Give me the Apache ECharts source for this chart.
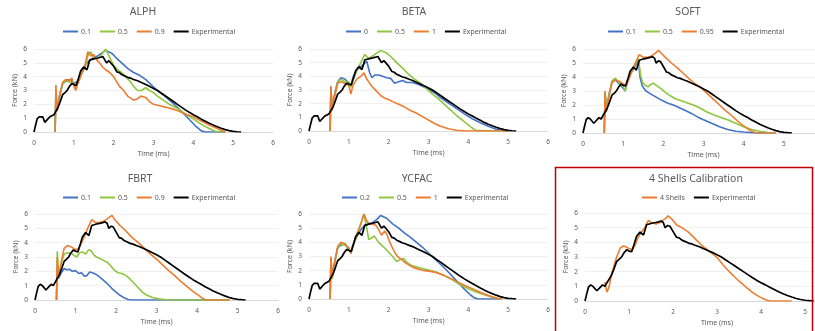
<!DOCTYPE html>
<html><head><meta charset="utf-8">
<script src="https://cdn.jsdelivr.net/npm/echarts@6/dist/echarts.min.js"></script>
<style>html,body{margin:0;padding:0;background:#fff}#c{width:815px;height:331px}</style>
</head><body><div id="c"></div>
<script>
// ---- data (time ms, force kN) ----
const panelTitles = ['ALPH','BETA','SOFT','FBRT','YCFAC','4 Shells Calibration'];
const xTicks = [0,1,2,3,4,5,6];
const yTicks = [0,1,2,3,4,5,6];
const experimental = [[0,0],[0.04,0.5],[0.08,0.95],[0.13,1.1],[0.18,1.0],[0.22,1.1],[0.27,0.7],[0.3,0.6],[0.35,0.95],[0.4,1.1],[0.45,1.0],[0.5,1.25],[0.53,1.4],[0.6,1.75],[0.66,2.2],[0.72,2.7],[0.78,2.85],[0.83,3.0],[0.89,3.3],[0.95,3.5],[1.0,3.4],[1.06,3.36],[1.12,3.9],[1.17,4.4],[1.25,4.7],[1.33,4.5],[1.4,5.2],[1.46,5.25],[1.52,5.3],[1.6,5.35],[1.67,5.4],[1.73,5.45],[1.78,5.35],[1.82,5.0],[1.88,5.15],[1.93,5.1],[2.0,4.75],[2.08,4.35],[2.14,4.3],[2.2,4.15],[2.28,4.05],[2.35,3.95],[2.42,3.9],[2.5,3.8],[2.6,3.7],[2.75,3.5],[2.9,3.3],[3.0,3.15],[3.1,3.0],[3.2,2.8],[3.3,2.6],[3.4,2.4],[3.5,2.2],[3.6,2.0],[3.7,1.8],[3.8,1.6],[3.9,1.42],[4.0,1.25],[4.1,1.1],[4.2,0.93],[4.3,0.78],[4.4,0.63],[4.5,0.5],[4.6,0.38],[4.7,0.27],[4.8,0.17],[4.9,0.1],[5.0,0.05],[5.1,0.02],[5.2,0]];

const alph01 = [[0.53,0],[0.55,2.8],[0.58,1.7],[0.65,2.8],[0.72,3.5],[0.8,3.7],[0.9,3.8],[1.0,3.5],[1.1,3.7],[1.2,4.5],[1.28,4.8],[1.4,5.2],[1.5,5.4],[1.6,5.5],[1.7,5.7],[1.8,5.9],[1.85,6.0],[1.95,5.7],[2.05,5.4],[2.2,5.0],[2.35,4.6],[2.5,4.3],[2.65,4.1],[2.8,3.8],[2.95,3.4],[3.1,3.0],[3.3,2.55],[3.5,2.05],[3.7,1.5],[3.9,0.9],[4.05,0.45],[4.2,0.08],[4.3,0],[4.8,0]];
const alph05 = [[0.53,0],[0.55,3.0],[0.58,1.6],[0.65,2.7],[0.72,3.5],[0.8,3.7],[0.9,3.6],[1.0,3.5],[1.05,3.2],[1.1,3.6],[1.2,4.3],[1.28,4.6],[1.35,5.5],[1.42,5.8],[1.5,5.4],[1.6,5.3],[1.7,5.6],[1.8,6.0],[1.9,5.4],[2.0,4.8],[2.1,4.5],[2.2,4.3],[2.3,4.0],[2.4,3.7],[2.5,3.3],[2.6,3.0],[2.7,3.0],[2.8,3.2],[2.9,3.0],[3.0,2.85],[3.1,2.6],[3.2,2.4],[3.4,2.0],[3.6,1.7],[3.8,1.3],[4.0,0.95],[4.2,0.55],[4.4,0.25],[4.55,0.05],[4.6,0],[4.8,0]];
const alph09 = [[0.53,0],[0.55,3.4],[0.58,1.5],[0.65,2.6],[0.72,3.6],[0.8,3.8],[0.9,3.7],[0.95,3.9],[1.0,3.3],[1.05,3.0],[1.1,3.5],[1.2,4.2],[1.27,4.7],[1.35,5.8],[1.42,5.5],[1.5,5.6],[1.58,5.2],[1.65,5.0],[1.72,4.7],[1.8,4.5],[1.9,4.3],[2.0,4.0],[2.08,3.6],[2.15,3.3],[2.25,3.0],[2.35,2.6],[2.5,2.3],[2.6,2.4],[2.68,2.6],[2.8,2.5],[2.9,2.2],[3.0,2.0],[3.15,1.9],[3.3,1.8],[3.55,1.6],[3.8,1.3],[4.0,1.1],[4.2,0.8],[4.4,0.5],[4.6,0.25],[4.8,0]];

const beta0 = [[0.53,0],[0.55,3.2],[0.58,1.7],[0.65,2.8],[0.72,3.6],[0.8,3.9],[0.9,3.8],[1.0,3.5],[1.05,3.3],[1.1,3.9],[1.2,4.5],[1.3,4.7],[1.38,4.9],[1.45,5.1],[1.52,4.3],[1.58,3.9],[1.65,4.1],[1.75,4.1],[1.85,4.0],[1.95,3.9],[2.05,3.85],[2.15,3.5],[2.25,3.6],[2.35,3.7],[2.45,3.55],[2.6,3.55],[2.75,3.4],[2.9,3.2],[3.0,3.05],[3.15,2.8],[3.3,2.45],[3.5,2.05],[3.7,1.65],[3.9,1.25],[4.1,0.9],[4.3,0.6],[4.5,0.35],[4.7,0.12],[4.85,0.03],[5.0,0]];
const beta05 = [[0.53,0],[0.55,3.0],[0.58,1.6],[0.65,2.7],[0.72,3.6],[0.8,3.8],[0.9,3.6],[1.0,3.6],[1.05,3.2],[1.1,3.7],[1.2,4.4],[1.3,5.0],[1.4,5.6],[1.5,5.3],[1.6,5.5],[1.7,5.7],[1.8,5.9],[1.85,6.0],[1.95,5.7],[2.05,5.45],[2.2,5.0],[2.35,4.6],[2.5,4.15],[2.65,3.8],[2.8,3.5],[2.95,3.1],[3.1,2.7],[3.25,2.35],[3.4,1.95],[3.55,1.55],[3.7,1.15],[3.85,0.8],[4.0,0.45],[4.1,0.2],[4.2,0.03],[4.25,0],[4.8,0]];
const beta1 = [[0.53,0],[0.55,3.3],[0.58,1.5],[0.65,2.6],[0.72,3.5],[0.8,3.6],[0.9,3.5],[1.0,3.3],[1.05,2.7],[1.1,3.3],[1.2,3.8],[1.3,4.0],[1.38,4.25],[1.45,3.8],[1.52,3.5],[1.6,3.2],[1.7,2.9],[1.8,2.6],[1.9,2.4],[2.0,2.3],[2.1,2.15],[2.25,1.95],[2.4,1.75],[2.55,1.5],[2.7,1.3],[2.85,1.05],[3.0,0.8],[3.15,0.55],[3.3,0.35],[3.5,0.17],[3.7,0.06],[3.9,0.01],[4.0,0],[5.0,0]];

const soft01 = [[0.53,0],[0.55,2.8],[0.58,1.7],[0.65,2.8],[0.72,3.6],[0.8,3.8],[0.9,3.5],[1.0,3.2],[1.05,3.0],[1.1,3.6],[1.2,4.3],[1.3,4.8],[1.38,5.2],[1.42,4.0],[1.47,3.4],[1.55,3.05],[1.65,2.85],[1.8,2.6],[1.95,2.35],[2.1,2.15],[2.25,2.0],[2.4,1.8],[2.55,1.6],[2.7,1.4],[2.85,1.15],[3.0,0.95],[3.2,0.7],[3.4,0.45],[3.6,0.25],[3.8,0.13],[4.0,0.07],[4.2,0.03],[4.5,0],[4.8,0]];
const soft05 = [[0.53,0],[0.55,3.0],[0.58,1.6],[0.65,2.7],[0.72,3.7],[0.8,3.9],[0.9,3.6],[1.0,3.3],[1.05,3.0],[1.1,3.7],[1.2,4.4],[1.3,4.9],[1.38,5.3],[1.43,4.2],[1.48,3.6],[1.55,3.4],[1.62,3.3],[1.7,3.5],[1.76,3.55],[1.85,3.35],[1.95,3.15],[2.05,2.9],[2.15,2.7],[2.3,2.45],[2.45,2.3],[2.6,2.15],[2.75,2.0],[2.9,1.8],[3.05,1.55],[3.2,1.35],[3.4,1.15],[3.6,0.95],[3.8,0.7],[4.0,0.45],[4.2,0.25],[4.4,0.12],[4.6,0.03],[4.75,0]];
const soft095 = [[0.53,0],[0.55,3.0],[0.58,1.5],[0.65,2.6],[0.72,3.6],[0.8,3.8],[0.9,3.7],[1.0,3.5],[1.08,3.4],[1.2,4.3],[1.3,5.0],[1.4,5.6],[1.5,5.4],[1.6,5.4],[1.7,5.5],[1.8,5.7],[1.88,5.9],[1.95,5.7],[2.05,5.4],[2.2,5.0],[2.35,4.65],[2.5,4.25],[2.65,3.85],[2.8,3.5],[2.95,3.2],[3.1,2.8],[3.25,2.4],[3.4,2.0],[3.55,1.6],[3.7,1.25],[3.85,0.85],[4.0,0.5],[4.15,0.2],[4.3,0.02],[4.35,0],[4.8,0]];

const fbrt01 = [[0.53,0],[0.55,2.5],[0.58,1.5],[0.65,1.9],[0.72,2.2],[0.78,2.1],[0.85,2.15],[0.92,2.0],[1.0,2.05],[1.08,1.85],[1.15,1.9],[1.22,1.65],[1.28,1.7],[1.35,1.95],[1.42,1.9],[1.5,1.8],[1.6,1.6],[1.7,1.35],[1.8,1.1],[1.9,0.8],[2.0,0.55],[2.1,0.33],[2.2,0.15],[2.3,0.04],[2.4,0],[4.8,0]];
const fbrt05 = [[0.53,0],[0.55,3.4],[0.58,1.5],[0.65,2.6],[0.72,3.2],[0.8,3.3],[0.9,3.25],[0.97,3.1],[1.03,3.0],[1.1,3.3],[1.18,3.35],[1.25,3.2],[1.32,3.5],[1.38,3.45],[1.45,3.15],[1.52,3.0],[1.6,2.9],[1.7,2.75],[1.8,2.6],[1.88,2.35],[1.95,2.1],[2.05,1.9],[2.15,1.85],[2.25,1.7],[2.35,1.45],[2.45,1.15],[2.55,0.85],[2.65,0.55],[2.75,0.35],[2.9,0.18],[3.05,0.08],[3.25,0.02],[3.4,0],[4.8,0]];
const fbrt09 = [[0.53,0],[0.55,3.0],[0.58,1.5],[0.65,2.7],[0.72,3.6],[0.8,3.8],[0.9,3.7],[1.0,3.5],[1.08,3.6],[1.2,4.3],[1.3,5.0],[1.4,5.6],[1.5,5.4],[1.6,5.4],[1.7,5.5],[1.8,5.7],[1.9,5.9],[1.97,5.6],[2.1,5.2],[2.25,4.8],[2.4,4.35],[2.55,4.0],[2.7,3.6],[2.85,3.2],[3.0,2.85],[3.15,2.45],[3.3,2.05],[3.45,1.7],[3.6,1.3],[3.75,0.95],[3.9,0.6],[4.05,0.3],[4.15,0.08],[4.22,0],[4.8,0]];

const ycfac02 = [[0.53,0],[0.55,2.9],[0.58,1.6],[0.65,2.7],[0.72,3.6],[0.8,3.8],[0.9,3.9],[1.0,3.5],[1.05,3.3],[1.1,3.8],[1.2,4.4],[1.3,4.9],[1.4,5.2],[1.5,5.3],[1.6,5.4],[1.7,5.6],[1.8,5.9],[1.85,6.0],[1.95,5.7],[2.1,5.3],[2.25,5.0],[2.4,4.65],[2.55,4.35],[2.7,4.0],[2.85,3.65],[3.0,3.25],[3.15,2.85],[3.3,2.45],[3.45,2.05],[3.6,1.6],[3.75,1.15],[3.9,0.7],[4.05,0.3],[4.15,0.08],[4.25,0],[4.8,0]];
const ycfac05 = [[0.53,0],[0.55,2.0],[0.58,1.4],[0.65,2.6],[0.72,3.6],[0.8,3.9],[0.9,3.8],[1.0,3.6],[1.05,3.3],[1.1,3.7],[1.2,4.6],[1.3,5.3],[1.38,6.0],[1.45,5.0],[1.5,4.2],[1.57,4.3],[1.64,4.45],[1.72,4.1],[1.8,3.85],[1.9,3.6],[2.0,3.3],[2.1,3.0],[2.2,2.65],[2.3,2.8],[2.38,2.85],[2.45,2.6],[2.55,2.4],[2.7,2.25],[2.85,2.15],[3.0,2.05],[3.2,1.9],[3.4,1.65],[3.6,1.35],[3.8,1.0],[4.0,0.72],[4.2,0.5],[4.4,0.3],[4.6,0.12],[4.75,0.03],[4.85,0]];
const ycfac1 = [[0.53,0],[0.55,3.0],[0.58,1.5],[0.65,2.7],[0.72,3.7],[0.8,4.0],[0.9,3.9],[1.0,3.6],[1.05,3.2],[1.1,3.7],[1.2,4.5],[1.3,5.3],[1.38,6.0],[1.45,5.5],[1.52,5.3],[1.6,5.3],[1.68,5.2],[1.75,4.9],[1.82,4.5],[1.9,4.8],[1.95,4.6],[2.0,4.2],[2.08,3.7],[2.15,3.3],[2.22,3.0],[2.32,2.8],[2.45,2.5],[2.6,2.25],[2.75,2.1],[2.9,2.0],[3.05,1.95],[3.2,1.85],[3.4,1.65],[3.6,1.4],[3.8,1.1],[4.0,0.85],[4.2,0.6],[4.4,0.35],[4.6,0.15],[4.75,0.04],[4.85,0]];

const shells4 = [[0.45,1.3],[0.5,0.6],[0.55,1.0],[0.6,1.8],[0.66,2.4],[0.72,3.0],[0.8,3.6],[0.87,3.75],[0.93,3.7],[0.98,3.6],[1.08,3.5],[1.15,3.9],[1.2,4.3],[1.28,4.7],[1.36,5.0],[1.44,5.5],[1.5,5.35],[1.55,5.3],[1.62,5.25],[1.7,5.35],[1.76,5.5],[1.82,5.6],[1.89,5.8],[1.97,5.6],[2.08,5.2],[2.2,5.0],[2.35,4.7],[2.5,4.25],[2.65,3.8],[2.8,3.45],[2.95,3.1],[3.05,2.8],[3.14,2.45],[3.25,2.1],[3.33,1.85],[3.45,1.5],[3.56,1.2],[3.68,0.9],[3.79,0.62],[3.9,0.4],[4.0,0.23],[4.1,0.08],[4.2,0],[4.7,0]];

const C = {blue:'#4472C4', green:'#8DC63F', orange:'#ED7D31', black:'#000000'};
const panelSeries = [
  [['0.1',alph01,C.blue],['0.5',alph05,C.green],['0.9',alph09,C.orange]],
  [['0',beta0,C.blue],['0.5',beta05,C.green],['1',beta1,C.orange]],
  [['0.1',soft01,C.blue],['0.5',soft05,C.green],['0.95',soft095,C.orange]],
  [['0.1',fbrt01,C.blue],['0.5',fbrt05,C.green],['0.9',fbrt09,C.orange]],
  [['0.2',ycfac02,C.blue],['0.5',ycfac05,C.green],['1',ycfac1,C.orange]],
  [['4 Shells',shells4,C.orange]]
];

// ---- layout ----
const L = [
  {left:34, top:49, width:239, height:83, tx:143, ty:7, lx:63, ly:28},
  {left:309, top:49, width:239, height:82, tx:414, ty:7, lx:346, ly:28},
  {left:583, top:49, width:241, height:84, tx:688, ty:7, lx:608, ly:28},
  {left:35, top:214, width:243, height:86, tx:140, ty:174, lx:63, ly:194},
  {left:309, top:214, width:239, height:85, tx:417, ty:174, lx:342, ly:194},
  {left:585, top:213, width:264, height:88, tx:696, ty:174, lx:642, ly:194}
];
const FONT = 'Noto Sans';
const grid=[], xAxis=[], yAxis=[], legend=[], series=[], graphic=[];
L.forEach((p,i)=>{
  grid.push({left:p.left, top:p.top, width:p.width, height:p.height, outerBoundsMode:'none', containLabel:false});
  xAxis.push({type:'value', gridIndex:i, min:xTicks[0], max:xTicks[xTicks.length-1], interval:1,
    name:'Time (ms)', nameLocation:'middle', nameGap:18,
    nameTextStyle:{fontSize:7, color:'#595959', fontFamily:FONT},
    axisLine:{show:true, onZero:false, lineStyle:{color:'#d9d9d9', width:1}},
    axisTick:{show:false}, splitLine:{show:false},
    axisLabel:{fontSize:6.5, color:'#595959', fontFamily:FONT, margin:8}});
  yAxis.push({type:'value', gridIndex:i, min:yTicks[0], max:yTicks[yTicks.length-1], interval:1,
    name:'Force (kN)', nameLocation:'middle', nameGap:16,
    nameTextStyle:{fontSize:7, color:'#595959', fontFamily:FONT},
    axisLine:{show:false}, axisTick:{show:false},
    splitLine:{show:true, lineStyle:{color:'#f0f0f0', width:1}},
    axisLabel:{fontSize:6.5, color:'#595959', fontFamily:FONT, margin:7}});
  const names=[];
  panelSeries[i].forEach(([n,d,c])=>{
    names.push(n);
    series.push({type:'line', name:n, data:d, xAxisIndex:i, yAxisIndex:i, showSymbol:false, symbol:'none',
      lineStyle:{color:c, width:1.6}, itemStyle:{color:c}, animation:false, z:2});
  });
  names.push('Experimental');
  series.push({type:'line', name:'Experimental', data:experimental, xAxisIndex:i, yAxisIndex:i, showSymbol:false, symbol:'none',
    lineStyle:{color:C.black, width:1.7}, itemStyle:{color:C.black}, animation:false, z:3});
  legend.push({data:names, left:p.lx, top:p.ly, orient:'horizontal', itemWidth:15, itemHeight:2, itemGap:9,
    icon:'rect', selectedMode:false, padding:0,
    textStyle:{fontSize:7, color:'#595959', fontFamily:FONT, padding:[0,0,0,-2]}});
  graphic.push({type:'text', x:p.tx, y:p.ty, z:10, style:{text:panelTitles[i], fill:'#595959', font:'10.5px '+FONT, textAlign:'center', textVerticalAlign:'top'}});
});
graphic.push({type:'rect', shape:{x:555.5, y:167.5, width:257, height:175}, style:{fill:'none', stroke:'#C00000', lineWidth:1.5}, z:10});

const chart = echarts.init(document.getElementById('c'), null, {renderer:'canvas'});
chart.setOption({backgroundColor:'#fff', animation:false, grid, xAxis, yAxis, legend, series, graphic, tooltip:{show:false}});
</script></body></html>
